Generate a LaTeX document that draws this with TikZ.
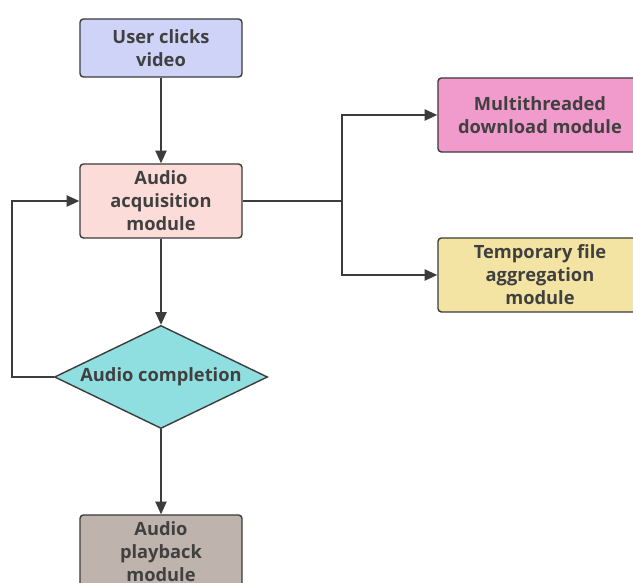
\documentclass[tikz,border=0pt]{standalone}
\usepackage{fontspec}
\setmainfont{Open Sans}
\usetikzlibrary{shapes.geometric,arrows.meta}

\definecolor{clickblue}{HTML}{D0D3F8}
\definecolor{acqpink}{HTML}{FBDCD9}
\definecolor{dlpink}{HTML}{F09BCB}
\definecolor{tmpyellow}{HTML}{F3E4A4}
\definecolor{donecyan}{HTML}{8FDEE0}
\definecolor{playtaupe}{HTML}{BFB3AD}
\definecolor{edge}{HTML}{3C3C3C}
\definecolor{ink}{HTML}{404040}

\tikzset{
    box/.style={draw=edge, line width=1pt, rounded corners=2.5pt, align=center,
        text=ink, font=\fontsize{13}{16.3}\selectfont\bfseries,
        minimum width=4.05cm, inner sep=2pt},
    arr/.style={draw=edge, line width=1pt, -{Triangle[length=9pt,width=8pt]}},
    line/.style={draw=edge, line width=1pt}
}

\begin{document}
\begin{tikzpicture}[x=0.025cm, y=-0.025cm]
    \clip (0, 0) rectangle (633, 583);
    \fill[white] (0, 0) rectangle (633, 583);

    \node[box, fill=clickblue, minimum height=1.45cm] (click) at (161, 48) {User clicks\\video};
    \node[box, fill=acqpink, minimum height=1.85cm] (acq) at (161, 201) {Audio\\acquisition\\module};

    \node[box, fill=dlpink, minimum width=5.1cm, minimum height=1.85cm] (dl) at (540, 115) {Multithreaded\\download module};
    \node[box, fill=tmpyellow, minimum width=5.1cm, minimum height=1.85cm] (tmp) at (540, 275) {Temporary file\\aggregation\\module};

    \node[diamond, aspect=2.07, draw=edge, line width=1pt, fill=donecyan, text=ink,
        font=\fontsize{13}{16.3}\selectfont\bfseries, inner sep=0pt,
        minimum width=5.325cm, minimum height=2.575cm] (done) at (161, 377) {Audio completion};

    \node[box, fill=playtaupe, minimum height=1.85cm] (play) at (161, 552) {Audio\\playback\\module};

    \draw[arr] (click) -- (acq);
    \draw[arr] (acq) -- (done);
    \draw[arr] (done) -- (play);

    % split to the two modules
    \coordinate (split) at (342, 201);
    \draw[line] (acq.east) -- (split);
    \draw[arr] (split) |- (dl.west);
    \draw[arr] (split) |- (tmp.west);

    % back to acquisition
    \coordinate (loop) at (12, 377);
    \draw[arr] (done.west) -- (loop) |- (acq.west);
\end{tikzpicture}
\end{document}
